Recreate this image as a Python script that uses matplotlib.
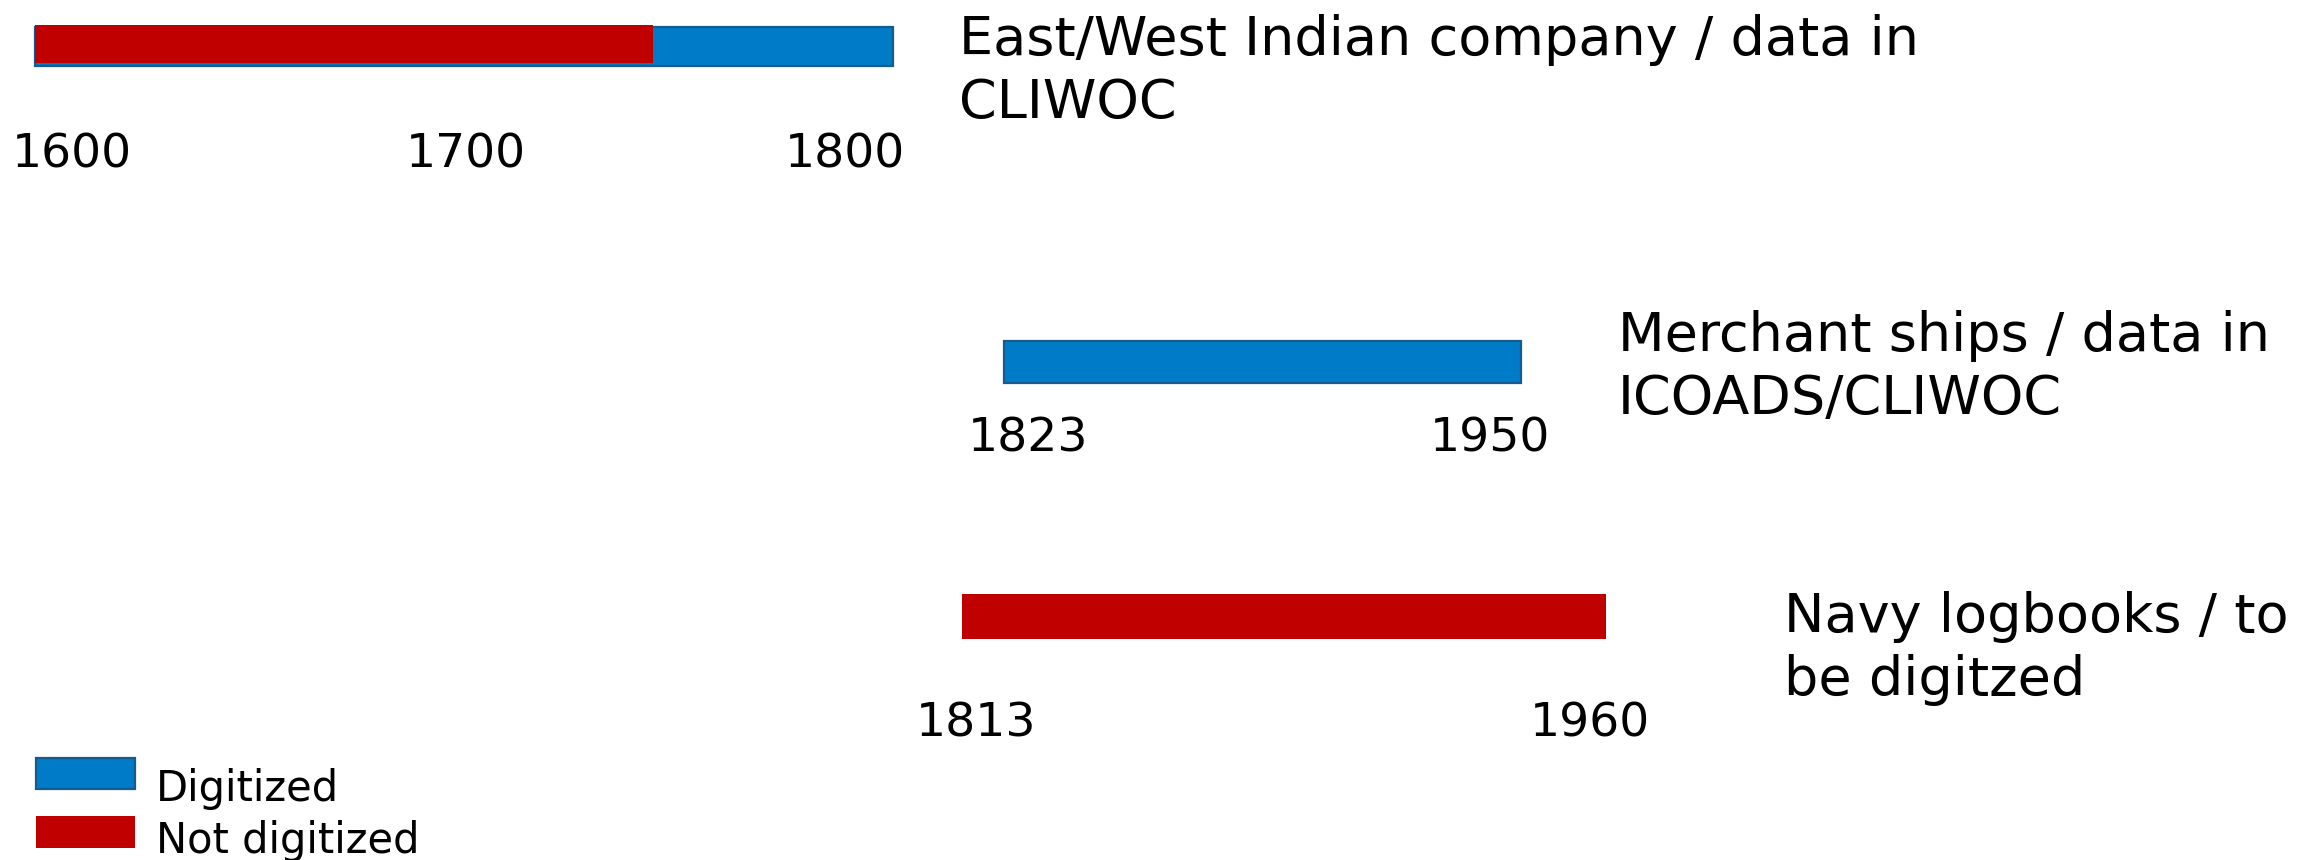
import matplotlib
matplotlib.use("Agg")
import matplotlib.pyplot as plt
from matplotlib.patches import Patch, Rectangle
from matplotlib.legend_handler import HandlerPatch

# ---------------- data ----------------
row_labels = ["East/West Indian company / data in\nCLIWOC",
              "Merchant ships / data in\nICOADS/CLIWOC",
              "Navy logbooks / to\nbe digitzed"]
digitized_spans = [(1600, 1800), (1823, 1950), None]
not_digitized_spans = [(1600, 1744), None, (1813, 1960)]
year_ticks = [[1600, 1700, 1800], [1823, 1950], [1813, 1960]]
legend_labels = ["Digitized", "Not digitized"]

# ---------------- style / layout ----------------
W, H, DPI = 2315, 860, 100
BLUE = "#007BC7"
BLUE_EDGE = "#155C8E"
RED = "#C00000"
FONT = "DejaVu Sans"
plt.rcParams["font.family"] = [FONT]

# pixel boxes of each row's axes (x0, y0, x1, y1), top-left origin
row_boxes = [(35, 25, 893, 66), (1004, 341, 1521, 383), (962, 594, 1606, 639)]
# bar vertical extents inside each axes (center, height) in axes units
blue_y = [(0.476, 0.95), (0.5, 1.0), (0.5, 1.0)]
red_y = [(0.537, 0.927), (0.5, 1.0), (0.5, 1.0)]
tick_dx = [[37, 2, -48], [24, -31], [14, -16]]
tick_dy = [-89, -56, -85]
text_pos = [(959, 55), (1618, 351), (1784, 632)]  # left x, first baseline
line_gap = 63

fig = plt.figure(figsize=(W / DPI, H / DPI), dpi=DPI)


def px_rect(x0, y0, x1, y1):
    return [x0 / W, 1 - y1 / H, (x1 - x0) / W, (y1 - y0) / H]


for i, box in enumerate(row_boxes):
    ax = fig.add_axes(px_rect(*box))
    spans = [s for s in (digitized_spans[i], not_digitized_spans[i]) if s]
    ax.set_xlim(min(s[0] for s in spans), max(s[1] for s in spans))
    ax.set_ylim(0, 1)
    ax.axis("off")
    if digitized_spans[i]:
        s, e = digitized_spans[i]
        c, h = blue_y[i]
        ax.barh(c, e - s, left=s, height=h, color=BLUE, edgecolor=BLUE_EDGE,
                linewidth=1.6, clip_on=False)
    if not_digitized_spans[i]:
        s, e = not_digitized_spans[i]
        c, h = red_y[i]
        ax.barh(c, e - s, left=s, height=h, color=RED, linewidth=0, clip_on=False)
    for t, dx in zip(year_ticks[i], tick_dx[i]):
        ax.annotate(str(t), xy=(t, 0), xycoords=ax.get_xaxis_transform(),
                    xytext=(dx, tick_dy[i]), textcoords="offset pixels",
                    ha="center", va="center", fontsize=34,
                    annotation_clip=False)
    x0, b0 = text_pos[i]
    for j, line in enumerate(row_labels[i].split("\n")):
        fig.text(x0 / W, 1 - (b0 + j * line_gap) / H, line, ha="left",
                 va="baseline", fontsize=39)


def shifted(dy):
    def make(legend, orig_handle, xdescent, ydescent, width, height, fontsize):
        return Rectangle((-xdescent, -ydescent + dy), width, height)
    return HandlerPatch(patch_func=make)


handles = [Patch(facecolor=BLUE, edgecolor=BLUE_EDGE, linewidth=1.6),
           Patch(facecolor=RED, edgecolor=RED, linewidth=0)]
fig.legend(handles, legend_labels, loc="upper left",
           bbox_to_anchor=(36 / W, 1 - 768 / H), frameon=False, fontsize=30,
           handlelength=2.38, handleheight=0.79, handletextpad=0.5,
           labelspacing=0.25, borderpad=0, borderaxespad=0,
           handler_map={handles[0]: shifted(9.4), handles[1]: shifted(5.0)})

fig.savefig("out.png", dpi=DPI)
